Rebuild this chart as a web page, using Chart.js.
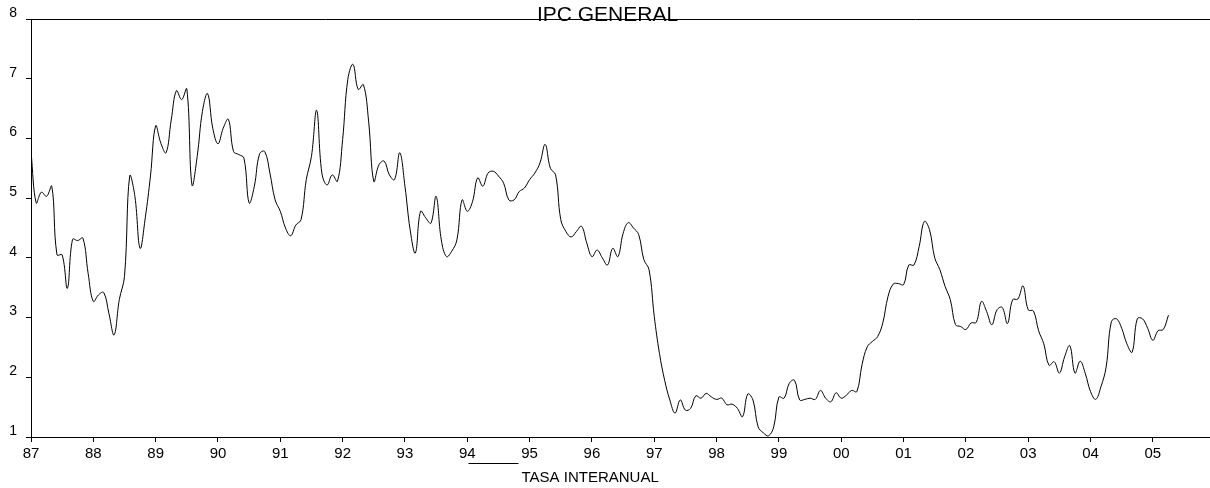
<!DOCTYPE html>
<html lang="es">

<head>
    <meta charset="UTF-8">
    <title>IPC General</title>
    <script src="https://cdn.jsdelivr.net/npm/chart.js"></script>
    <style>
        body {
            margin: 0;
            background: #fff;
        }

        #graph {
            width: 1210px;
            height: 488px;
        }
    </style>
</head>

<body>
    <div id="graph">
        <canvas id="myChart"></canvas>
    </div>

    <script>
        // tasa interanual mensual, ene 1987 - abr 2005
        const tasaInteranual = [
            5.78, 4.92, 5.10, 5.03, 5.20, 4.05, 4.05, 3.49, 4.31, 4.29, 4.33, 3.74,
            3.27, 3.38, 3.42, 3.07, 2.71, 3.30, 3.69, 5.37, 5.03, 4.16, 4.67, 5.37,
            6.21, 5.92, 5.76, 6.31, 6.80, 6.65, 6.83, 5.22, 5.70, 6.45, 6.75, 6.17,
            5.91, 6.17, 6.32, 5.78, 5.73, 5.67, 4.92, 5.20, 5.74, 5.78, 5.42, 4.97,
            4.78, 4.50, 4.37, 4.55, 4.64, 5.31, 5.70, 6.47, 5.42, 5.22, 5.39, 5.28,
            5.98, 6.99, 7.24, 6.82, 6.90, 6.29, 5.28, 5.56, 5.62, 5.39, 5.31, 5.76,
            5.20, 4.47, 4.08, 4.78, 4.67, 4.58, 5.03, 4.30, 4.02, 4.11, 4.30, 4.97,
            4.78, 4.94, 5.34, 5.20, 5.42, 5.45, 5.37, 5.25, 4.97, 4.97, 5.11, 5.17,
            5.31, 5.42, 5.59, 5.90, 5.50, 5.39, 4.64, 4.44, 4.35, 4.44, 4.53, 4.25,
            4.02, 4.13, 4.00, 3.88, 4.16, 4.02, 4.41, 4.59, 4.50, 4.39, 3.97, 3.80,
            3.02, 2.40, 1.95, 1.62, 1.40, 1.62, 1.45, 1.48, 1.69, 1.65, 1.73, 1.67,
            1.63, 1.65, 1.54, 1.55, 1.48, 1.34, 1.72, 1.62, 1.17, 1.07, 1.02, 1.17,
            1.67, 1.65, 1.90, 1.95, 1.62, 1.63, 1.65, 1.63, 1.78, 1.65, 1.59, 1.74,
            1.65, 1.70, 1.78, 1.76, 2.21, 2.51, 2.60, 2.68, 2.91, 3.35, 3.56, 3.57,
            3.55, 3.88, 3.88, 4.19, 4.61, 4.47, 4.00, 3.80, 3.52, 3.30, 2.88, 2.85,
            2.80, 2.91, 2.92, 3.27, 3.10, 2.88, 3.13, 3.17, 2.90, 3.30, 3.31, 3.53,
            3.13, 3.11, 2.78, 2.56, 2.20, 2.26, 2.07, 2.34, 2.53, 2.07, 2.27, 2.06,
            1.76, 1.63, 1.84, 2.17, 2.93, 2.98, 2.82, 2.56, 2.42, 2.98, 2.98, 2.82,
            2.62, 2.78, 2.80, 3.04
        ];

        const etiquetasAnio = ['87', '88', '89', '90', '91', '92', '93', '94', '95', '96',
            '97', '98', '99', '00', '01', '02', '03', '04', '05'];
        const ticksY = [1, 2, 3, 4, 5, 6, 7, 8];
        const mesesEje = 227; // eje hasta dic 2005

        const titulo = 'IPC GENERAL';
        const leyenda = 'TASA INTERANUAL';

        const fuente = "'Liberation Sans', Arial, sans-serif";

        // marco superior, titulo y leyenda al estilo del original
        const marco = {
            id: 'marco',
            afterDraw(chart) {
                const c = chart.ctx;
                const a = chart.chartArea;
                const cx = (a.left + a.right) / 2;
                c.save();
                c.strokeStyle = '#000';
                c.lineWidth = 1;
                c.beginPath();
                c.moveTo(a.left, Math.round(a.top) + 0.5);
                c.lineTo(a.right, Math.round(a.top) + 0.5);
                c.stroke();

                c.fillStyle = '#000';
                c.font = '21px ' + fuente;
                c.textAlign = 'center';
                c.textBaseline = 'alphabetic';
                c.fillText(titulo, cx - 13, a.top + 1.5);

                c.beginPath();
                c.moveTo(cx - 152, a.bottom + 26.5);
                c.lineTo(cx - 102, a.bottom + 26.5);
                c.stroke();
                c.font = '15px ' + fuente;
                c.textAlign = 'left';
                c.fillText(leyenda, cx - 99, a.bottom + 45);
                c.restore();
            }
        };

        const ctx = document.getElementById('myChart');

        new Chart(ctx, {
            type: 'line',
            data: {
                datasets: [{
                    label: leyenda,
                    data: tasaInteranual.map((v, i) => ({ x: i, y: v })),
                    borderColor: '#000',
                    borderWidth: 1,
                    pointRadius: 0,
                    tension: 0.4,
                    fill: false
                }]
            },
            options: {
                responsive: true,
                maintainAspectRatio: false,
                animation: false,
                layout: {
                    padding: { top: 19, right: 0, bottom: 0, left: 0 }
                },
                plugins: {
                    legend: { display: false },
                    title: { display: false },
                    tooltip: { enabled: false }
                },
                scales: {
                    x: {
                        type: 'linear',
                        min: 0,
                        max: mesesEje,
                        afterBuildTicks: (scale) => {
                            scale.ticks = etiquetasAnio.map((l, i) => ({ value: i * 12 }));
                        },
                        afterFit: (scale) => { scale.height = 51; },
                        ticks: {
                            callback: (v) => etiquetasAnio[Math.round(v / 12)],
                            color: '#000',
                            font: { size: 15, family: fuente },
                            padding: 3,
                            maxRotation: 0,
                            autoSkip: false
                        },
                        grid: {
                            drawOnChartArea: false,
                            color: '#000',
                            tickLength: 5
                        },
                        border: { color: '#000', width: 1 }
                    },
                    y: {
                        min: 1,
                        max: 8,
                        afterBuildTicks: (scale) => {
                            scale.ticks = ticksY.map((v) => ({ value: v }));
                        },
                        afterFit: (scale) => { scale.width = 31; },
                        ticks: {
                            color: '#000',
                            font: { size: 14, family: fuente },
                            padding: 9,
                            labelOffset: -6
                        },
                        grid: {
                            drawOnChartArea: false,
                            color: '#000',
                            tickLength: 5
                        },
                        border: { color: '#000', width: 1 }
                    }
                }
            },
            plugins: [marco]
        });
    </script>
</body>

</html>
